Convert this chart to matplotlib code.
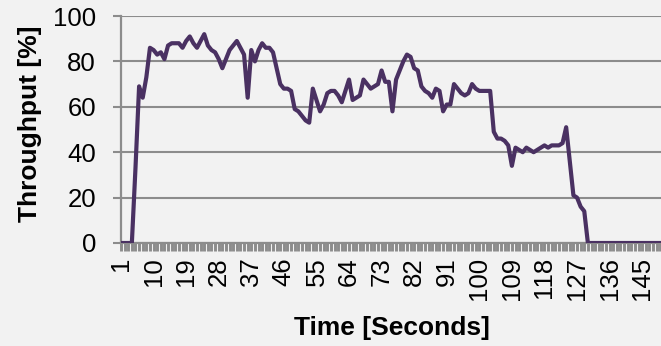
import numpy as np
import matplotlib.pyplot as plt
from matplotlib.ticker import FixedLocator

plt.rcParams['font.family'] = ['Liberation Sans', 'DejaVu Sans']

# 초 단위 처리율 데이터 (1~150초)
seconds = list(range(1, 151))
throughput = [
    0, 0, 0, 0, 33, 69, 64, 73, 86, 85,
    83, 84, 81, 87, 88, 88, 88, 86, 89, 91,
    88, 86, 89, 92, 87, 85, 84, 81, 77, 81,
    85, 87, 89, 86, 83, 64, 85, 80, 85, 88,
    86, 86, 84, 77, 70, 68, 68, 67, 59, 58,
    56, 54, 53, 68, 63, 58, 61, 66, 67, 67,
    65, 62, 67, 72, 63, 64, 65, 72, 70, 68,
    69, 70, 76, 71, 71, 58, 72, 76, 80, 83,
    82, 77, 76, 69, 67, 66, 64, 68, 67, 58,
    61, 61, 70, 68, 66, 65, 66, 70, 68, 67,
    67, 67, 67, 49, 46, 46, 45, 43, 34, 42,
    41, 40, 42, 41, 40, 41, 42, 43, 42, 43,
    43, 43, 44, 51, 36, 21, 20, 16, 14, 0,
    0, 0, 0, 0, 0, 0, 0, 0, 0, 0,
    0, 0, 0, 0, 0, 0, 0, 0, 0, 0,
]
x_labels = seconds[::9]
y_ticks = [0, 20, 40, 60, 80, 100]

BG = '#f2f2f2'
GRID = '#8c8c8c'
LINE = '#4a3162'

fig = plt.figure(figsize=(6.61, 3.46), dpi=100, facecolor=BG)
ax = fig.add_axes([121 / 661, 1 - 243 / 346, 1 - 121 / 661, 227 / 346])
ax.set_facecolor(BG)

ax.plot(seconds, throughput, color=LINE, lw=3, solid_joinstyle='round', zorder=3)

ax.set_xlim(1, 150.2)
ax.set_ylim(0, 100)

# y축: 눈금선과 라벨
ax.set_yticks(y_ticks)
ax.grid(axis='y', color=GRID, lw=1.5, zorder=1)
ax.tick_params(axis='y', length=6, width=1.5, color=GRID, pad=12,
               labelsize=18.5, labelcolor='black')

# x축: 매초 눈금, 9초마다 라벨
ax.xaxis.set_major_locator(FixedLocator(x_labels))
ax.xaxis.set_minor_locator(FixedLocator(seconds))
ax.set_xticklabels([str(v) for v in x_labels], rotation=90, va='top')
ax.tick_params(axis='x', which='both', length=6, width=2.1, color=GRID, pad=4,
               labelsize=18.5, labelcolor='black')

for side in ['top', 'right']:
    ax.spines[side].set_visible(False)
ax.spines['left'].set_color(GRID)
ax.spines['left'].set_linewidth(1.6)
ax.spines['bottom'].set_color(GRID)
ax.spines['bottom'].set_linewidth(1.6)

fig.text(30 / 661, 1 - 124 / 346, 'Throughput [%]', rotation=90, ha='center', va='center',
         fontsize=19, fontweight='bold')
fig.text(392 / 661, 1 - 328 / 346, 'Time [Seconds]', ha='center', va='center',
         fontsize=19, fontweight='bold')

plt.savefig('out.png', dpi=100, facecolor=BG)
